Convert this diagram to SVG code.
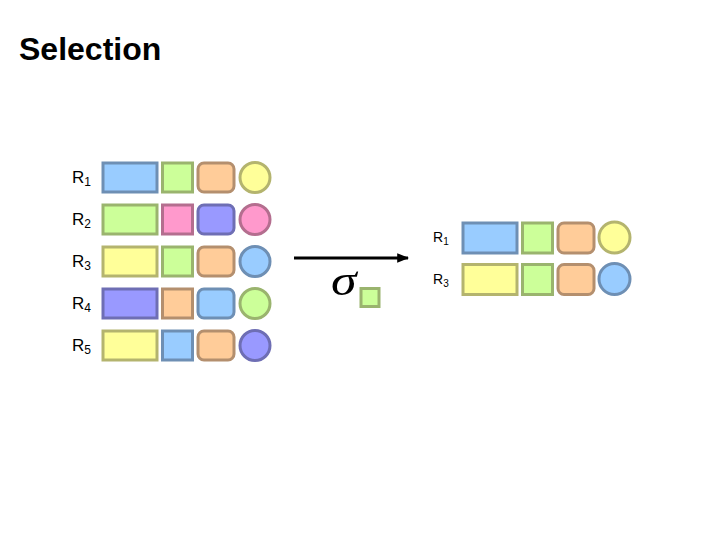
<svg xmlns="http://www.w3.org/2000/svg" width="720" height="540" viewBox="0 0 720 540">
<defs>
<style>
.s{stroke-width:3}
.bl{fill:#99CCFF;stroke:#6E8FB4}
.gr{fill:#CCFF99;stroke:#9AB46E}
.or{fill:#FFCC99;stroke:#B48F6E}
.ye{fill:#FFFF99;stroke:#B4B46E}
.pk{fill:#FF99CC;stroke:#B46E8F}
.pu{fill:#9999FF;stroke:#6E6EB4}
.lbl{font-family:"Liberation Sans",Arial,sans-serif;fill:#000}
</style>
<marker id="ah" viewBox="0 0 10 10" refX="9" refY="5" markerWidth="4" markerHeight="4" orient="auto" markerUnits="strokeWidth">
<path d="M0,1 L10,5 L0,9 z" fill="#000"/>
</marker>
</defs>
<rect width="720" height="540" fill="#fff"/>
<text x="19" y="60" class="lbl" font-size="32" font-weight="bold">Selection</text>

<g id="left-R1">
<text x="72" y="183" class="lbl" font-size="17">R<tspan font-size="12" dy="3">1</tspan></text>
<rect class="s bl" x="103" y="163" width="54" height="29"/>
<rect class="s gr" x="162.5" y="163" width="30" height="29"/>
<rect class="s or" x="198" y="163" width="36" height="29" rx="6"/>
<circle class="s ye" cx="255" cy="177.5" r="15"/>
</g>
<g id="left-R2">
<text x="72" y="225" class="lbl" font-size="17">R<tspan font-size="12" dy="3">2</tspan></text>
<rect class="s gr" x="103" y="205" width="54" height="29"/>
<rect class="s pk" x="162.5" y="205" width="30" height="29"/>
<rect class="s pu" x="198" y="205" width="36" height="29" rx="6"/>
<circle class="s pk" cx="255" cy="219.5" r="15"/>
</g>
<g id="left-R3">
<text x="72" y="267" class="lbl" font-size="17">R<tspan font-size="12" dy="3">3</tspan></text>
<rect class="s ye" x="103" y="247" width="54" height="29"/>
<rect class="s gr" x="162.5" y="247" width="30" height="29"/>
<rect class="s or" x="198" y="247" width="36" height="29" rx="6"/>
<circle class="s bl" cx="255" cy="261.5" r="15"/>
</g>
<g id="left-R4">
<text x="72" y="309" class="lbl" font-size="17">R<tspan font-size="12" dy="3">4</tspan></text>
<rect class="s pu" x="103" y="289" width="54" height="29"/>
<rect class="s or" x="162.5" y="289" width="30" height="29"/>
<rect class="s bl" x="198" y="289" width="36" height="29" rx="6"/>
<circle class="s gr" cx="255" cy="303.5" r="15"/>
</g>
<g id="left-R5">
<text x="72" y="351" class="lbl" font-size="17">R<tspan font-size="12" dy="3">5</tspan></text>
<rect class="s ye" x="103" y="331" width="54" height="29"/>
<rect class="s bl" x="162.5" y="331" width="30" height="29"/>
<rect class="s or" x="198" y="331" width="36" height="29" rx="6"/>
<circle class="s pu" cx="255" cy="345.5" r="15"/>
</g>

<g id="connectors">
<line x1="294" y1="258" x2="408" y2="258" stroke="#000" stroke-width="3" marker-end="url(#ah)"/>
</g>
<g id="sigma">
<text x="0" y="0" transform="translate(331,295) scale(1.15,1)" font-family="Liberation Serif,'Times New Roman',serif" font-style="italic" font-size="45" fill="#000">σ</text>
<rect class="s gr" x="361" y="288.5" width="18" height="18"/>
</g>

<g id="right-R1">
<text x="433" y="241.5" class="lbl" font-size="14">R<tspan font-size="10" dy="3">1</tspan></text>
<rect class="s bl" x="463" y="223" width="54" height="30"/>
<rect class="s gr" x="522.5" y="223" width="30" height="30"/>
<rect class="s or" x="558" y="223" width="36" height="30" rx="6"/>
<circle class="s ye" cx="614.5" cy="237.5" r="15.5"/>
</g>
<g id="right-R3">
<text x="433" y="284" class="lbl" font-size="14">R<tspan font-size="10" dy="3">3</tspan></text>
<rect class="s ye" x="463" y="264.5" width="54" height="30"/>
<rect class="s gr" x="522.5" y="264.5" width="30" height="30"/>
<rect class="s or" x="558" y="264.5" width="36" height="30" rx="6"/>
<circle class="s bl" cx="614.5" cy="279" r="15.5"/>
</g>
</svg>
